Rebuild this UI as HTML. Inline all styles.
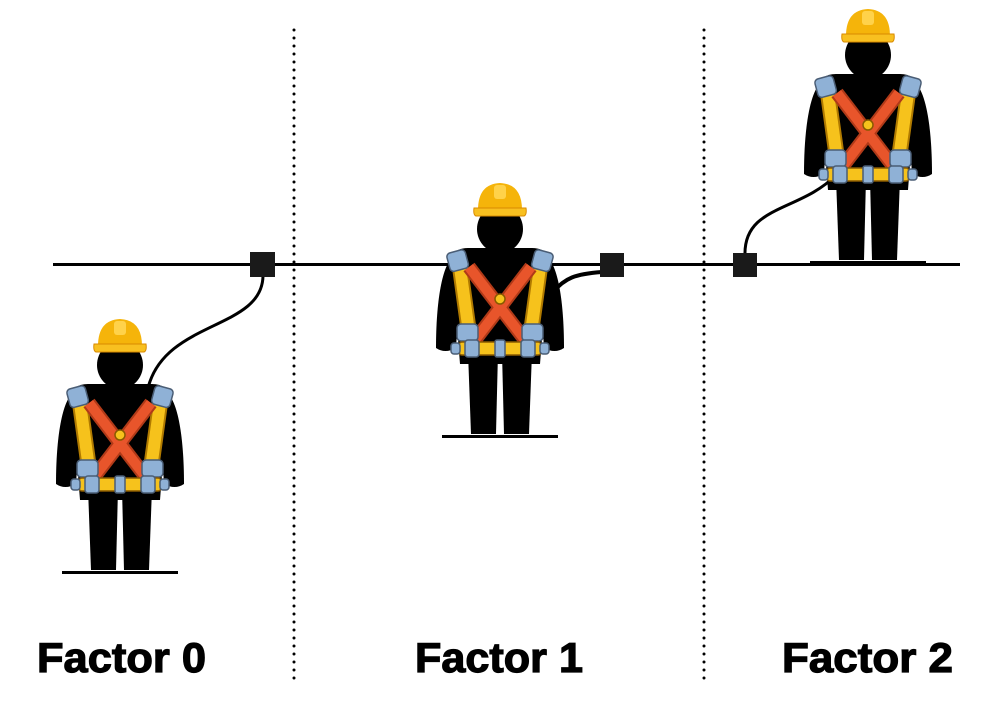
<!DOCTYPE html>
<html><head><meta charset="utf-8"><style>
html,body{margin:0;padding:0;background:#fff;}
svg{display:block;}
</style></head><body>
<svg width="1000" height="713" viewBox="0 0 1000 713" xmlns="http://www.w3.org/2000/svg">
<defs>
<g id="man">
  <!-- legs -->
  <path d="M-32,170 L-2,170 L-4,252 L-29,252 Z" fill="#000"/>
  <path d="M2,170 L32,170 L29,252 L4,252 Z" fill="#000"/>
  <!-- arms -->
  <path d="M-46,74 C-58,82 -64,120 -64,166 Q-55,172 -44,166 L-40,100 Z" fill="#000"/>
  <path d="M46,74 C58,82 64,120 64,166 Q55,172 44,166 L40,100 Z" fill="#000"/>
  <!-- torso -->
  <path d="M-48,80 Q-48,66 -32,66 L32,66 Q48,66 48,80 L40,182 L-40,182 Z" fill="#000"/>
  <!-- head -->
  <ellipse cx="0" cy="47" rx="23" ry="24" fill="#000"/>
  <!-- helmet -->
  <path d="M-22,28 Q-22,2 0,1 Q22,2 22,28 Z" fill="#f5b40a"/>
  <path d="M-26,26 L26,26 Q27,33 24,34 L-24,34 Q-27,33 -26,26 Z" fill="#f8c020" stroke="#d98a00" stroke-width="1"/>
  <rect x="-6" y="3" width="12" height="14" rx="3" fill="#ffd24a"/>
  <!-- yellow straps -->
  <path d="M-41,78 L-29,165" stroke="#b07a00" stroke-width="16" fill="none"/>
  <path d="M41,78 L29,165" stroke="#b07a00" stroke-width="16" fill="none"/>
  <path d="M-41,78 L-29,165" stroke="#f6c21c" stroke-width="12" fill="none"/>
  <path d="M41,78 L29,165" stroke="#f6c21c" stroke-width="12" fill="none"/>
  <!-- red X -->
  <path d="M-31,85 L25,158" stroke="#b03a18" stroke-width="14" fill="none"/>
  <path d="M31,85 L-25,158" stroke="#b03a18" stroke-width="14" fill="none"/>
  <path d="M-31,85 L25,158" stroke="#e8552b" stroke-width="10" fill="none"/>
  <path d="M31,85 L-25,158" stroke="#e8552b" stroke-width="10" fill="none"/>
  <circle cx="0" cy="117" r="5" fill="#f6c21c" stroke="#8a5a00" stroke-width="1.5"/>
  <!-- shoulder buckles -->
  <rect x="-52" y="69" width="19" height="19" rx="4" fill="#8fb1d6" stroke="#4a5d75" stroke-width="1.5" transform="rotate(-15 -42 78)"/>
  <rect x="33" y="69" width="19" height="19" rx="4" fill="#8fb1d6" stroke="#4a5d75" stroke-width="1.5" transform="rotate(15 42 78)"/>
  <!-- hip buckles -->
  <rect x="-43" y="142" width="21" height="17" rx="4" fill="#8fb1d6" stroke="#4a5d75" stroke-width="1.5"/>
  <rect x="22" y="142" width="21" height="17" rx="4" fill="#8fb1d6" stroke="#4a5d75" stroke-width="1.5"/>
  <!-- belt -->
  <rect x="-41" y="160" width="82" height="13" rx="3" fill="#f6c21c" stroke="#8a5a00" stroke-width="1.5"/>
  <rect x="-35" y="158" width="14" height="17" rx="3" fill="#8fb1d6" stroke="#4a5d75" stroke-width="1.5"/>
  <rect x="21" y="158" width="14" height="17" rx="3" fill="#8fb1d6" stroke="#4a5d75" stroke-width="1.5"/>
  <rect x="-5" y="158" width="10" height="17" rx="2" fill="#8fb1d6" stroke="#4a5d75" stroke-width="1.5"/>
  <rect x="-49" y="161" width="9" height="11" rx="3" fill="#8fb1d6" stroke="#4a5d75" stroke-width="1.5"/>
  <rect x="40" y="161" width="9" height="11" rx="3" fill="#8fb1d6" stroke="#4a5d75" stroke-width="1.5"/>
  <!-- ground -->
  <rect x="-58" y="253" width="116" height="3" fill="#000"/>
</g>
</defs>

<line x1="294" y1="30" x2="294" y2="681" stroke="#000" stroke-width="3" stroke-linecap="round" stroke-dasharray="0 8"/>
<line x1="704" y1="30" x2="704" y2="681" stroke="#000" stroke-width="3" stroke-linecap="round" stroke-dasharray="0 8"/>

<rect x="53" y="263" width="907" height="3" fill="#000"/>

<path d="M263,276 C262,330 165,320 148,388" stroke="#000" stroke-width="3" fill="none"/>
<path d="M602,272 C575,274 565,278 553,292" stroke="#000" stroke-width="4" fill="none"/>
<path d="M745,256 C743,205 800,212 836,175" stroke="#000" stroke-width="3" fill="none"/>

<rect x="250" y="252" width="25" height="25" fill="#1a1a1a"/>
<rect x="600" y="253" width="24" height="24" fill="#1a1a1a"/>
<rect x="733" y="253" width="24" height="24" fill="#1a1a1a"/>

<use href="#man" transform="translate(120,318)"/>
<use href="#man" transform="translate(500,182)"/>
<use href="#man" transform="translate(868,8)"/>

<g font-family="Liberation Sans, sans-serif" font-weight="bold" font-size="42" fill="#000" stroke="#000" stroke-width="1.2">
<text x="37" y="672" textLength="169" lengthAdjust="spacingAndGlyphs">Factor 0</text>
<text x="415" y="672" textLength="168" lengthAdjust="spacingAndGlyphs">Factor 1</text>
<text x="782" y="672" textLength="171" lengthAdjust="spacingAndGlyphs">Factor 2</text>
</g>
</svg>
</body></html>
